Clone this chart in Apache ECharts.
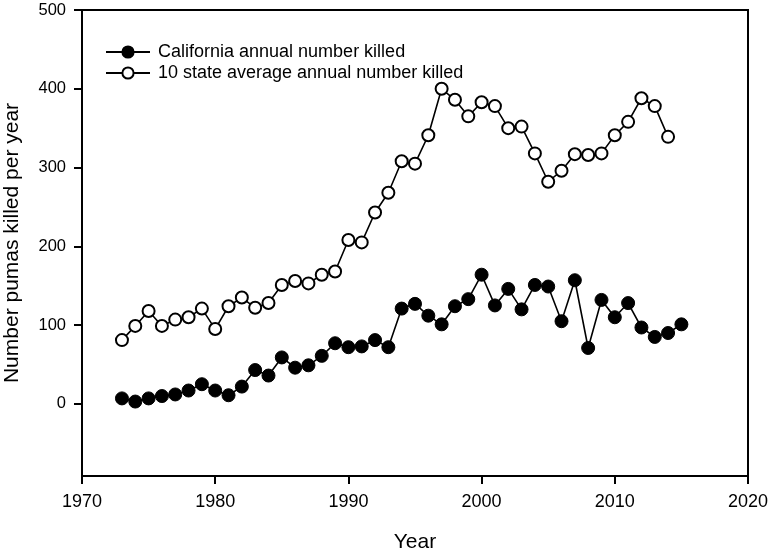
<!DOCTYPE html>
<html>
<head>
<meta charset="utf-8">
<script src="https://cdn.jsdelivr.net/npm/echarts@6/dist/echarts.min.js"></script>
<style>html,body{margin:0;padding:0;background:#fff}#c{width:773px;height:554px}</style>
</head>
<body>
<div id="c"></div>
<script>
const years = [1973,1974,1975,1976,1977,1978,1979,1980,1981,1982,1983,1984,1985,1986,1987,1988,1989,1990,1991,1992,1993,1994,1995,1996,1997,1998,1999,2000,2001,2002,2003,2004,2005,2006,2007,2008,2009,2010,2011,2012,2013,2014,2015];
const california = [7,3,7,10,12,17,25,17,11,22,43,36,59,46,49,61,77,72,73,81,72,121,127,112,101,124,133,164,125,146,120,151,149,105,157,71,132,110,128,97,85,90,101];
const tenState = [81,99,118,99,107,110,121,95,124,135,122,128,151,156,153,164,168,208,205,243,268,308,305,341,400,386,365,383,378,350,352,318,282,296,317,316,318,341,358,388,378,339];
const yTicks = [0,100,200,300,400,500];
const xTicks = [1970,1980,1990,2000,2010,2020];

const F = '"Liberation Sans", Arial, sans-serif';
const chart = echarts.init(document.getElementById('c'));
chart.setOption({
  animation: false,
  backgroundColor: '#fff',
  grid: { left: 82, right: 25, top: 10, bottom: 78, containLabel: false, outerBoundsMode: 'none', show: true, borderColor: '#000', borderWidth: 2, backgroundColor: 'transparent' },
  legend: {
    orient: 'vertical', left: 100, top: 38, itemWidth: 44, itemHeight: 14, itemGap: 3,
    textStyle: { fontFamily: F, fontSize: 18, color: '#000', padding: [0,0,0,3] },
    data: ['California annual number killed', '10 state average annual number killed']
  },
  xAxis: {
    type: 'value', min: 1970, max: 2020, interval: 10,
    name: 'Year', nameLocation: 'middle', nameGap: 56,
    nameTextStyle: { fontFamily: F, fontSize: 21, color: '#000' },
    axisLine: { onZero: false, lineStyle: { color: '#000', width: 2 } },
    axisTick: { show: true, length: 8, lineStyle: { color: '#000', width: 2 } },
    axisLabel: { fontFamily: F, fontSize: 18, color: '#000', margin: 17, formatter: v => xTicks.includes(v) ? String(v) : '' },
    splitLine: { show: false }
  },
  yAxis: {
    type: 'value', min: -91.5, max: 500,
    name: 'Number pumas killed per year', nameLocation: 'middle', nameGap: 59, nameRotate: 90,
    nameTextStyle: { fontFamily: F, fontSize: 21, color: '#000' },
    axisLine: { show: true, onZero: false, lineStyle: { color: '#000', width: 2 } },
    axisTick: { show: true, length: 8, customValues: yTicks, lineStyle: { color: '#000', width: 2 } },
    axisLabel: { fontFamily: F, fontSize: 16.5, color: '#000', margin: 16, customValues: yTicks },
    splitLine: { show: false }
  },
  series: [
    {
      name: 'California annual number killed', type: 'line',
      data: years.map((y, i) => [y, california[i]]),
      symbol: 'circle', symbolSize: 13,
      lineStyle: { color: '#000', width: 1.6 },
      itemStyle: { color: '#000', borderColor: '#000', borderWidth: 1 },
      z: 3
    },
    {
      name: '10 state average annual number killed', type: 'line',
      data: years.slice(0, tenState.length).map((y, i) => [y, tenState[i]]),
      symbol: 'circle', symbolSize: 12,
      lineStyle: { color: '#000', width: 1.6 },
      itemStyle: { color: '#fff', borderColor: '#000', borderWidth: 2 },
      z: 2
    }
  ]
});
</script>
</body>
</html>
